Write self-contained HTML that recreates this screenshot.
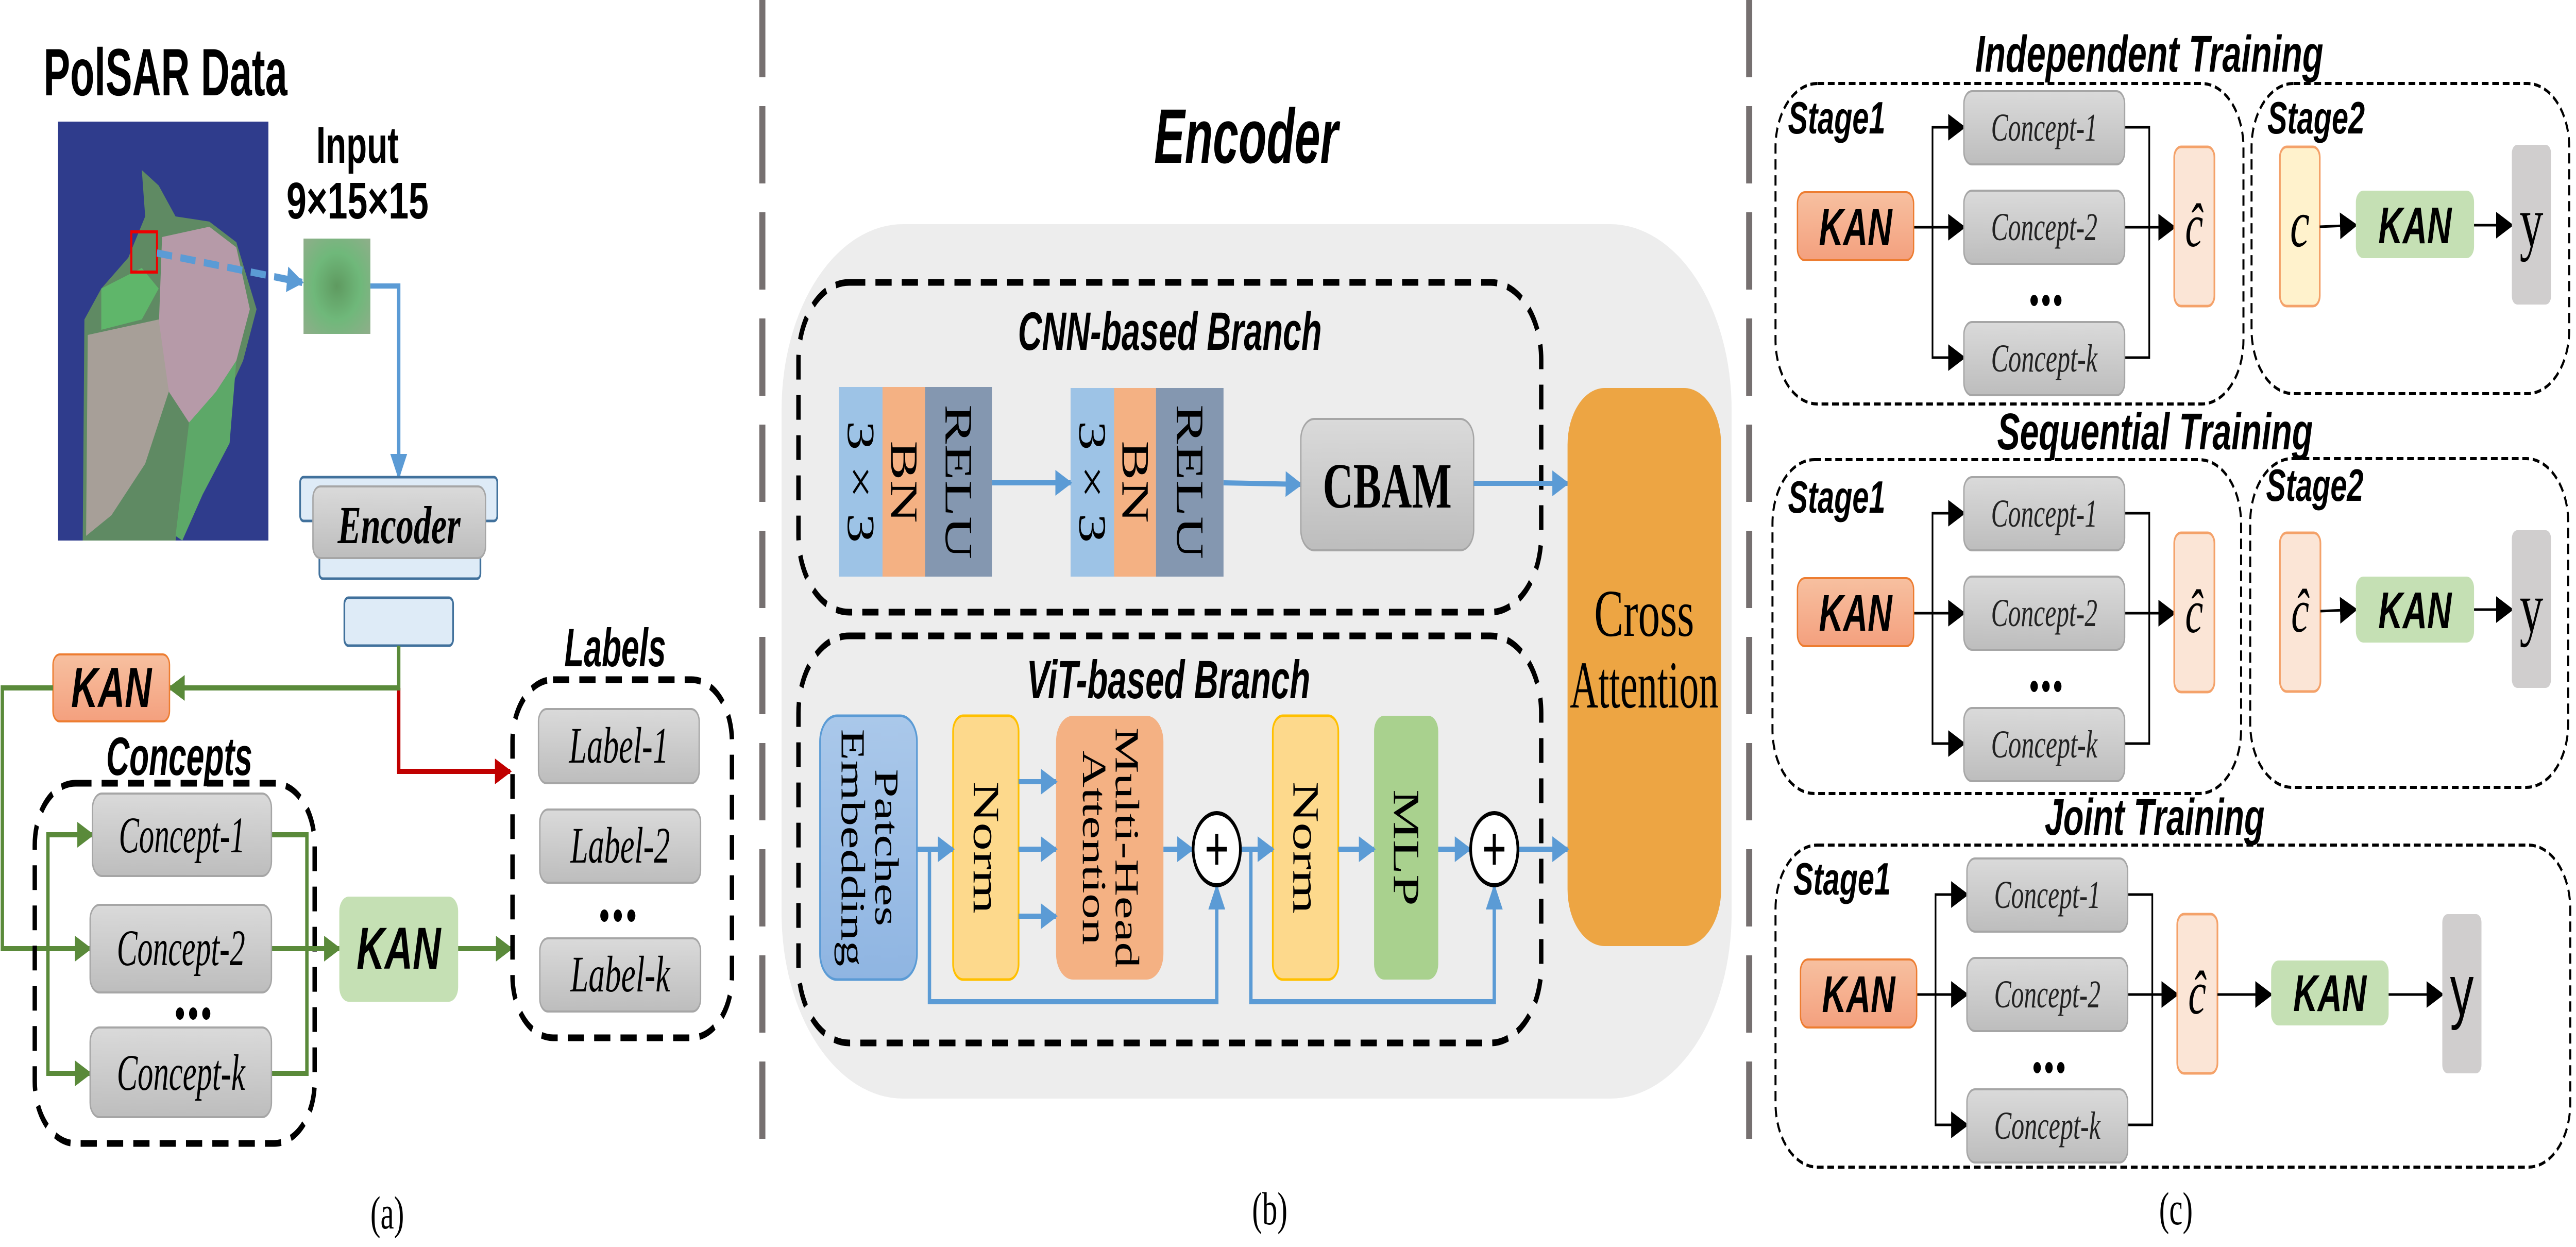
<!DOCTYPE html>
<html><head><meta charset="utf-8"><style>
html,body{margin:0;padding:0;background:#fff;width:100%;height:100%;overflow:hidden}
svg{display:block;width:100vw;height:100vh}
.sans{font-family:"Liberation Sans",sans-serif}
.serif{font-family:"Liberation Serif",serif}
</style></head><body>
<svg viewBox="0 0 7630 2420" preserveAspectRatio="none" xmlns="http://www.w3.org/2000/svg">
<defs>
<linearGradient id="gr" x1="0" y1="0" x2="0" y2="1"><stop offset="0" stop-color="#dadada"/><stop offset="1" stop-color="#bdbdbd"/></linearGradient>
<linearGradient id="or" x1="0" y1="0" x2="0" y2="1"><stop offset="0" stop-color="#f7c0a0"/><stop offset="1" stop-color="#f4a07e"/></linearGradient>
<linearGradient id="pe" x1="0" y1="0" x2="0" y2="1"><stop offset="0" stop-color="#aac8ea"/><stop offset="1" stop-color="#8fb5e2"/></linearGradient>
<radialGradient id="patch" cx="0.5" cy="0.5" r="0.7"><stop offset="0" stop-color="#5f9a60"/><stop offset="0.5" stop-color="#6fb87a"/><stop offset="1" stop-color="#8fae8a"/></radialGradient>
<marker id="ab" viewBox="0 0 10 10" refX="9" refY="5" markerWidth="50" markerHeight="50" markerUnits="userSpaceOnUse" orient="auto"><path d="M0,0 L10,5 L0,10 z" fill="#5b9bd5"/></marker>
<marker id="ag" viewBox="0 0 10 10" refX="9" refY="5" markerWidth="50" markerHeight="50" markerUnits="userSpaceOnUse" orient="auto"><path d="M0,0 L10,5 L0,10 z" fill="#5a8a3a"/></marker>
<marker id="ar" viewBox="0 0 10 10" refX="9" refY="5" markerWidth="50" markerHeight="50" markerUnits="userSpaceOnUse" orient="auto"><path d="M0,0 L10,5 L0,10 z" fill="#c00000"/></marker>
<marker id="ak" viewBox="0 0 10 10" refX="9" refY="5" markerWidth="52" markerHeight="52" markerUnits="userSpaceOnUse" orient="auto"><path d="M0,0 L10,5 L0,10 z" fill="#000"/></marker>
</defs>

<!-- ============ PANEL A ============ -->
<text x="129" y="185" class="sans" font-weight="bold" font-size="130" textLength="722" lengthAdjust="spacingAndGlyphs">PolSAR Data</text>
<rect x="172" y="236" width="623" height="813" fill="#2f3c8c"/>
<polygon points="420,330 430,420 380,500 300,560 250,620 245,1049 520,1049 560,900 650,800 720,700 760,600 700,470 620,430 520,420 470,360" fill="#5f8a63"/>
<polygon points="480,460 620,440 700,480 740,600 700,700 620,780 560,820 500,760 470,640" fill="#b69aa8"/>
<polygon points="260,650 470,620 500,760 430,900 330,1000 255,1040" fill="#a79f98"/>
<polygon points="300,560 420,520 470,560 420,620 300,640" fill="#5fb66a"/>
<polygon points="560,820 640,760 700,700 680,860 600,960 540,1049 520,1040" fill="#5da868"/>
<rect x="389" y="450" width="76" height="78" fill="none" stroke="#e00" stroke-width="6"/>
<line x1="465" y1="491" x2="895" y2="548" stroke="#5b9bd5" stroke-width="14" stroke-dasharray="45 25" marker-end="url(#ab)"/>
<text x="1059" y="316" class="sans" font-weight="bold" font-size="100" text-anchor="middle">Input</text>
<text x="1059" y="424" class="sans" font-weight="bold" font-size="100" text-anchor="middle" textLength="421" lengthAdjust="spacingAndGlyphs">9×15×15</text>
<rect x="899" y="463" width="198" height="185" fill="url(#patch)"/>
<polyline points="1097,555 1181,555 1181,926" fill="none" stroke="#5b9bd5" stroke-width="10" marker-end="url(#ab)"/>
<rect x="889" y="926" width="584" height="85" rx="10" fill="#deebf7" stroke="#41719c" stroke-width="5"/>
<rect x="946" y="1060" width="477" height="63" rx="10" fill="#deebf7" stroke="#41719c" stroke-width="5"/>
<rect x="927" y="944" width="511" height="139" rx="22" fill="url(#gr)" stroke="#a6a6a6" stroke-width="4"/>
<text x="1182" y="1054" class="serif" font-style="italic" font-weight="bold" font-size="104" text-anchor="middle">Encoder</text>
<rect x="1020" y="1160" width="322" height="93" rx="12" fill="#deebf7" stroke="#41719c" stroke-width="5"/>
<polyline points="1181,1335 1181,1497 1511,1497" fill="none" stroke="#c00000" stroke-width="10" marker-end="url(#ar)"/>
<polyline points="1181,1253 1181,1335 502,1335" fill="none" stroke="#5a8a3a" stroke-width="10" marker-end="url(#ag)"/>
<rect x="157" y="1270" width="345" height="130" rx="20" fill="url(#or)" stroke="#ed7d31" stroke-width="4"/>
<text x="330" y="1372" class="sans" font-style="italic" font-weight="bold" font-size="110" text-anchor="middle">KAN</text>
<polyline points="157,1335 7,1335 7,1841 267,1841" fill="none" stroke="#5a8a3a" stroke-width="10" marker-end="url(#ag)"/>
<text x="531" y="1504" class="sans" font-style="italic" font-weight="bold" font-size="105" text-anchor="middle" textLength="433" lengthAdjust="spacingAndGlyphs">Concepts</text>
<rect x="103" y="1520" width="829" height="699" rx="120" fill="none" stroke="#000" stroke-width="13" stroke-dasharray="48 30"/>
<polyline points="274,1620 142,1620 142,2083 267,2083" fill="none" stroke="#5a8a3a" stroke-width="10"/>
<line x1="142" y1="1620" x2="274" y2="1620" stroke="#5a8a3a" stroke-width="10" marker-end="url(#ag)"/>
<line x1="142" y1="2083" x2="267" y2="2083" stroke="#5a8a3a" stroke-width="10" marker-end="url(#ag)"/>
<polyline points="804,1620 909,1620 909,2083 804,2083" fill="none" stroke="#5a8a3a" stroke-width="10"/>
<line x1="804" y1="1841" x2="1005" y2="1841" stroke="#5a8a3a" stroke-width="10" marker-end="url(#ag)"/>
<rect x="274" y="1540" width="530" height="160" rx="28" fill="url(#gr)" stroke="#a6a6a6" stroke-width="4"/>
<rect x="267" y="1756" width="537" height="170" rx="28" fill="url(#gr)" stroke="#a6a6a6" stroke-width="4"/>
<rect x="267" y="1994" width="537" height="174" rx="28" fill="url(#gr)" stroke="#a6a6a6" stroke-width="4"/>
<g class="serif" font-style="italic" font-size="100" text-anchor="middle">
<text x="539" y="1654" textLength="374" lengthAdjust="spacingAndGlyphs">Concept-1</text>
<text x="536" y="1873" textLength="380" lengthAdjust="spacingAndGlyphs">Concept-2</text>
<text x="536" y="2115" textLength="380" lengthAdjust="spacingAndGlyphs">Concept-k</text>
</g>
<g fill="#000"><circle cx="533" cy="1967" r="12"/><circle cx="572" cy="1967" r="12"/><circle cx="611" cy="1967" r="12"/></g>
<rect x="1005" y="1740" width="352" height="204" rx="28" fill="#c5e0b4"/>
<text x="1181" y="1880" class="sans" font-style="italic" font-weight="bold" font-size="115" text-anchor="middle">KAN</text>
<line x1="1357" y1="1841" x2="1514" y2="1841" stroke="#5a8a3a" stroke-width="10" marker-end="url(#ag)"/>
<text x="1822" y="1293" class="sans" font-style="italic" font-weight="bold" font-size="105" text-anchor="middle" textLength="301" lengthAdjust="spacingAndGlyphs">Labels</text>
<rect x="1518" y="1319" width="650" height="695" rx="120" fill="none" stroke="#000" stroke-width="13" stroke-dasharray="48 30"/>
<rect x="1595" y="1376" width="476" height="144" rx="24" fill="url(#gr)" stroke="#a6a6a6" stroke-width="4"/>
<rect x="1599" y="1571" width="476" height="142" rx="24" fill="url(#gr)" stroke="#a6a6a6" stroke-width="4"/>
<rect x="1599" y="1821" width="476" height="142" rx="24" fill="url(#gr)" stroke="#a6a6a6" stroke-width="4"/>
<g class="serif" font-style="italic" font-size="100" text-anchor="middle">
<text x="1833" y="1480" textLength="295" lengthAdjust="spacingAndGlyphs">Label-1</text>
<text x="1837" y="1674" textLength="295" lengthAdjust="spacingAndGlyphs">Label-2</text>
<text x="1837" y="1924" textLength="295" lengthAdjust="spacingAndGlyphs">Label-k</text>
</g>
<g fill="#000"><circle cx="1790" cy="1777" r="12"/><circle cx="1830" cy="1777" r="12"/><circle cx="1870" cy="1777" r="12"/></g>
<text x="1147" y="2384" class="serif" font-size="90" text-anchor="middle">(a)</text>

<line x1="2258" y1="0" x2="2258" y2="2238" stroke="#767070" stroke-width="18" stroke-dasharray="150 56"/>
<line x1="5181" y1="0" x2="5181" y2="2238" stroke="#767070" stroke-width="18" stroke-dasharray="150 56"/>

<!-- ============ PANEL B ============ -->
<text x="3691" y="316" class="sans" font-style="italic" font-weight="bold" font-size="150" text-anchor="middle" textLength="545" lengthAdjust="spacingAndGlyphs">Encoder</text>
<rect x="2315" y="435" width="2814" height="1697" rx="360" fill="#ededed"/>
<rect x="2365" y="548" width="2200" height="640" rx="150" fill="none" stroke="#000" stroke-width="13" stroke-dasharray="48 30"/>
<text x="3465" y="679" class="sans" font-style="italic" font-weight="bold" font-size="105" text-anchor="middle" textLength="900" lengthAdjust="spacingAndGlyphs">CNN-based Branch</text>
<rect x="2485" y="751" width="129" height="368" fill="#9dc3e6"/>
<rect x="2614" y="751" width="126" height="368" fill="#f4b183"/>
<rect x="2740" y="751" width="198" height="368" fill="#8497b0"/>
<rect x="3171" y="753" width="129" height="366" fill="#9dc3e6"/>
<rect x="3300" y="753" width="124" height="366" fill="#f4b183"/>
<rect x="3424" y="753" width="200" height="366" fill="#8497b0"/>
<g class="serif" font-size="115" text-anchor="middle" dominant-baseline="central">
<text transform="translate(2549,935) rotate(90)">3 × 3</text>
<text transform="translate(2677,935) rotate(90)">BN</text>
<text transform="translate(2839,935) rotate(90)">RELU</text>
<text transform="translate(3235,935) rotate(90)">3 × 3</text>
<text transform="translate(3362,935) rotate(90)">BN</text>
<text transform="translate(3524,935) rotate(90)">RELU</text>
</g>
<line x1="2938" y1="937" x2="3171" y2="937" stroke="#5b9bd5" stroke-width="10" marker-end="url(#ab)"/>
<line x1="3624" y1="937" x2="3853" y2="940" stroke="#5b9bd5" stroke-width="10" marker-end="url(#ab)"/>
<rect x="3853" y="813" width="512" height="255" rx="40" fill="url(#gr)" stroke="#a6a6a6" stroke-width="4"/>
<text x="4109" y="985" class="serif" font-weight="bold" font-size="125" text-anchor="middle">CBAM</text>
<line x1="4365" y1="938" x2="4643" y2="938" stroke="#5b9bd5" stroke-width="10" marker-end="url(#ab)"/>
<rect x="2365" y="1234" width="2200" height="790" rx="150" fill="none" stroke="#000" stroke-width="13" stroke-dasharray="48 30"/>
<text x="3461" y="1355" class="sans" font-style="italic" font-weight="bold" font-size="105" text-anchor="middle" textLength="840" lengthAdjust="spacingAndGlyphs">ViT-based Branch</text>
<rect x="4643" y="753" width="455" height="1083" rx="110" fill="#eda543"/>
<text x="4870" y="1234" class="serif" font-size="130" text-anchor="middle">Cross</text>
<text x="4870" y="1373" class="serif" font-size="130" text-anchor="middle" textLength="440" lengthAdjust="spacingAndGlyphs">Attention</text>
<rect x="2429" y="1389" width="287" height="512" rx="50" fill="url(#pe)" stroke="#5b9bd5" stroke-width="5"/>
<rect x="2823" y="1389" width="194" height="512" rx="30" fill="#fdd98c" stroke="#ffc000" stroke-width="5"/>
<rect x="3128" y="1389" width="318" height="512" rx="50" fill="#f4b183"/>
<rect x="3770" y="1389" width="194" height="512" rx="30" fill="#fdd98c" stroke="#ffc000" stroke-width="5"/>
<rect x="4070" y="1389" width="190" height="512" rx="30" fill="#a9d18e"/>
<g class="serif" font-size="100" text-anchor="middle" dominant-baseline="central">
<text transform="translate(2625,1645) rotate(90)">Patches</text>
<text transform="translate(2525,1645) rotate(90)">Embedding</text>
<text transform="translate(2920,1645) rotate(90)" font-size="110">Norm</text>
<text transform="translate(3337,1645) rotate(90)">Multi-Head</text>
<text transform="translate(3240,1645) rotate(90)">Attention</text>
<text transform="translate(3867,1645) rotate(90)" font-size="110">Norm</text>
<text transform="translate(4165,1645) rotate(90)" font-size="110">MLP</text>
</g>
<g stroke="#5b9bd5" stroke-width="10" fill="none">
<line x1="2716" y1="1648" x2="2823" y2="1648" marker-end="url(#ab)"/>
<line x1="3017" y1="1517" x2="3128" y2="1517" marker-end="url(#ab)"/>
<line x1="3017" y1="1648" x2="3128" y2="1648" marker-end="url(#ab)"/>
<line x1="3017" y1="1778" x2="3128" y2="1778" marker-end="url(#ab)"/>
<line x1="3446" y1="1648" x2="3532" y2="1648" marker-end="url(#ab)"/>
<line x1="3676" y1="1648" x2="3770" y2="1648" marker-end="url(#ab)"/>
<line x1="3964" y1="1648" x2="4070" y2="1648" marker-end="url(#ab)"/>
<line x1="4260" y1="1648" x2="4354" y2="1648" marker-end="url(#ab)"/>
<line x1="4498" y1="1648" x2="4643" y2="1648" marker-end="url(#ab)"/>
<polyline points="2753,1648 2753,1944 3604,1944 3604,1720" marker-end="url(#ab)"/>
<polyline points="3705,1648 3705,1944 4426,1944 4426,1720" marker-end="url(#ab)"/>
</g>
<circle cx="3604" cy="1648" r="70" fill="#fff" stroke="#000" stroke-width="8"/>
<circle cx="4426" cy="1648" r="70" fill="#fff" stroke="#000" stroke-width="8"/>
<g stroke="#000" stroke-width="9"><line x1="3574" y1="1648" x2="3634" y2="1648"/><line x1="3604" y1="1618" x2="3604" y2="1678"/><line x1="4396" y1="1648" x2="4456" y2="1648"/><line x1="4426" y1="1618" x2="4426" y2="1678"/></g>
<text x="3761" y="2376" class="serif" font-size="90" text-anchor="middle">(b)</text>

<!-- ============ PANEL C ============ -->
<g class="sans" font-style="italic" font-weight="bold" text-anchor="middle">
<text x="6366" y="139" font-size="100" textLength="1031" lengthAdjust="spacingAndGlyphs">Independent Training</text>
<text x="6383" y="872" font-size="100" textLength="935" lengthAdjust="spacingAndGlyphs">Sequential Training</text>
<text x="6382" y="1620" font-size="100" textLength="651" lengthAdjust="spacingAndGlyphs">Joint Training</text>
</g>
<g fill="none" stroke="#000" stroke-width="6" stroke-dasharray="20 11">
<rect x="5259" y="162" width="1386" height="622" rx="124"/>
<rect x="6669" y="162" width="941" height="602" rx="124"/>
<rect x="5250" y="892" width="1388" height="648" rx="124"/>
<rect x="6665" y="890" width="942" height="638" rx="124"/>
<rect x="5259" y="1640" width="2354" height="625" rx="124"/>
</g>
<g class="sans" font-style="italic" font-weight="bold" font-size="88">
<text x="5296" y="259">Stage1</text>
<text x="6716" y="259">Stage2</text>
<text x="5296" y="995">Stage1</text>
<text x="6712" y="972">Stage2</text>
<text x="5312" y="1736">Stage1</text>
</g>

<g id="rowI">
<polyline points="5668,441 5724,441" stroke="#000" stroke-width="5" fill="none"/>
<polyline points="5817,247 5724,247 5724,694 5817,694" stroke="#000" stroke-width="5" fill="none"/>
<line x1="5724" y1="247" x2="5817" y2="247" stroke="#000" stroke-width="5" marker-end="url(#ak)"/>
<line x1="5724" y1="441" x2="5817" y2="441" stroke="#000" stroke-width="5" marker-end="url(#ak)"/>
<line x1="5724" y1="694" x2="5817" y2="694" stroke="#000" stroke-width="5" marker-end="url(#ak)"/>
<polyline points="6293,247 6366,247 6366,694 6293,694" stroke="#000" stroke-width="5" fill="none"/>
<line x1="6293" y1="441" x2="6440" y2="441" stroke="#000" stroke-width="5" marker-end="url(#ak)"/>
<rect x="5324" y="373" width="344" height="132" rx="22" fill="url(#or)" stroke="#ed7d31" stroke-width="4"/>
<text x="5496" y="475" class="sans" font-style="italic" font-weight="bold" font-size="100" text-anchor="middle">KAN</text>
<rect x="5817" y="177" width="476" height="142" rx="24" fill="url(#gr)" stroke="#a6a6a6" stroke-width="4"/>
<rect x="5817" y="370" width="476" height="142" rx="24" fill="url(#gr)" stroke="#a6a6a6" stroke-width="4"/>
<rect x="5817" y="625" width="476" height="142" rx="24" fill="url(#gr)" stroke="#a6a6a6" stroke-width="4"/>
<g class="serif" font-style="italic" font-size="76" text-anchor="middle" fill="#222">
<text x="6055" y="273" textLength="315" lengthAdjust="spacingAndGlyphs">Concept-1</text>
<text x="6055" y="466" textLength="315" lengthAdjust="spacingAndGlyphs">Concept-2</text>
<text x="6055" y="721" textLength="315" lengthAdjust="spacingAndGlyphs">Concept-k</text>
</g>
<g fill="#000"><circle cx="6025" cy="583" r="11"/><circle cx="6060" cy="583" r="11"/><circle cx="6095" cy="583" r="11"/></g>
<rect x="6440" y="285" width="119" height="309" rx="20" fill="#fbe5d6" stroke="#f4a26a" stroke-width="5"/>
<text x="6499" y="478" class="serif" font-style="italic" font-size="120" text-anchor="middle">ĉ</text>
</g>
<use href="#rowI" transform="translate(0,749)"/>
<use href="#rowI" transform="translate(9,1489)"/>

<rect x="6753" y="285" width="118" height="309" rx="20" fill="#fff2cc" stroke="#f4a26a" stroke-width="5"/>
<text x="6812" y="478" class="serif" font-style="italic" font-size="130" text-anchor="middle">c</text>
<line x1="6871" y1="440" x2="6978" y2="437" stroke="#000" stroke-width="5" marker-end="url(#ak)"/>
<rect x="6978" y="370" width="350" height="131" rx="22" fill="#c5e0b4"/>
<text x="7153" y="472" class="sans" font-style="italic" font-weight="bold" font-size="100" text-anchor="middle">KAN</text>
<line x1="7328" y1="437" x2="7440" y2="437" stroke="#000" stroke-width="5" marker-end="url(#ak)"/>
<rect x="7440" y="281" width="116" height="310" rx="16" fill="#d0cece"/>
<text x="7498" y="478" class="serif" font-size="140" text-anchor="middle">y</text>

<rect x="6753" y="1034" width="120" height="308" rx="20" fill="#fbe5d6" stroke="#f4a26a" stroke-width="5"/>
<text x="6813" y="1226" class="serif" font-style="italic" font-size="120" text-anchor="middle">ĉ</text>
<line x1="6873" y1="1186" x2="6978" y2="1183" stroke="#000" stroke-width="5" marker-end="url(#ak)"/>
<rect x="6978" y="1119" width="350" height="128" rx="22" fill="#c5e0b4"/>
<text x="7153" y="1219" class="sans" font-style="italic" font-weight="bold" font-size="100" text-anchor="middle">KAN</text>
<line x1="7328" y1="1183" x2="7440" y2="1183" stroke="#000" stroke-width="5" marker-end="url(#ak)"/>
<rect x="7440" y="1029" width="116" height="306" rx="16" fill="#d0cece"/>
<text x="7498" y="1226" class="serif" font-size="140" text-anchor="middle">y</text>

<line x1="6568" y1="1930" x2="6727" y2="1930" stroke="#000" stroke-width="5" marker-end="url(#ak)"/>
<rect x="6727" y="1864" width="348" height="126" rx="22" fill="#c5e0b4"/>
<text x="6901" y="1962" class="sans" font-style="italic" font-weight="bold" font-size="100" text-anchor="middle">KAN</text>
<line x1="7075" y1="1930" x2="7234" y2="1930" stroke="#000" stroke-width="5" marker-end="url(#ak)"/>
<rect x="7234" y="1774" width="116" height="309" rx="16" fill="#d0cece"/>
<text x="7292" y="1970" class="sans" font-size="140" text-anchor="middle" font-family="Liberation Serif, serif">y</text>

<text x="6445" y="2376" class="serif" font-size="90" text-anchor="middle">(c)</text>
</svg>
</body></html>
